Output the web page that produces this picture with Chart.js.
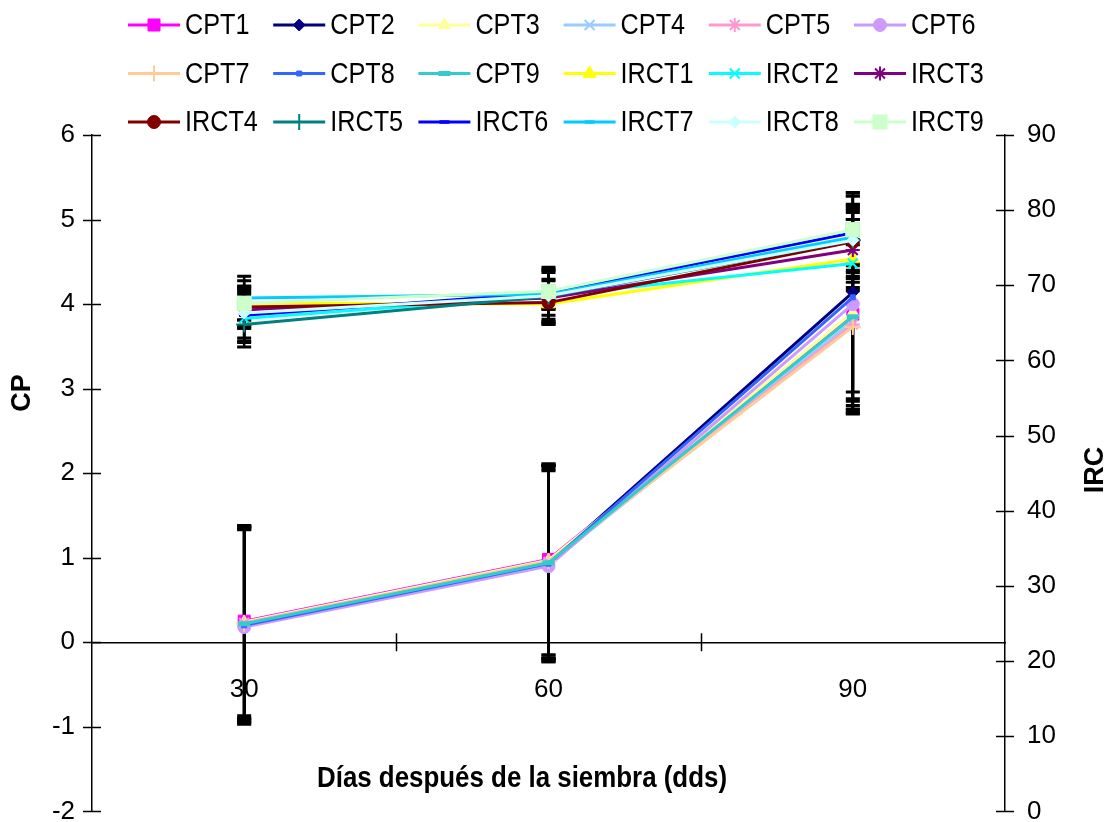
<!DOCTYPE html>
<html>
<head>
<meta charset="utf-8">
<script src="https://cdn.jsdelivr.net/npm/chart.js"></script>
<style>
  html, body { margin: 0; padding: 0; background: #fff; }
  #wrap { width: 1109px; height: 822px; overflow: hidden; position: relative; }
</style>
</head>
<body>
<div id="wrap"><canvas id="chart" width="1109" height="849"></canvas></div>
<script>
// dias despues de la siembra
const days = ['30', '60', '90'];

const cpNames = ['CPT1', 'CPT2', 'CPT3', 'CPT4', 'CPT5', 'CPT6', 'CPT7', 'CPT8', 'CPT9'];
const ircNames = ['IRCT1', 'IRCT2', 'IRCT3', 'IRCT4', 'IRCT5', 'IRCT6', 'IRCT7', 'IRCT8', 'IRCT9'];

// CP values (left axis), one array per day, T1..T9
const cp30 = [0.25, 0.22, 0.24, 0.20, 0.23, 0.18, 0.22, 0.20, 0.22];
const cp60 = [0.98, 0.94, 0.97, 0.93, 0.95, 0.90, 0.96, 0.93, 0.94];
const cp90 = [3.88, 4.14, 3.90, 3.80, 3.76, 4.00, 3.73, 4.08, 3.85];
const cpErr30 = [1.12, 1.15, 1.14, 1.16, 1.13, 1.15, 1.12, 1.14, 1.16];
const cpErr60 = [1.13, 1.15, 1.12, 1.16, 1.14, 1.13, 1.15, 1.12, 1.14];
const cpErr90 = [1.12, 1.18, 1.10, 1.08, 1.05, 1.15, 1.03, 1.20, 1.10];

// IRC values (right axis)
const irc30 = [67.6, 65.6, 66.7, 67.1, 64.8, 66.0, 68.3, 66.3, 67.6];
const irc60 = [67.5, 68.6, 68.3, 67.7, 68.5, 69.0, 68.8, 68.6, 69.2];
const irc90 = [73.5, 72.9, 74.7, 75.8, 76.0, 77.0, 76.4, 76.0, 77.4];
const ircErr30 = [3.0, 3.2, 2.4, 2.8, 3.0, 3.4, 2.9, 3.3, 2.2];
const ircErr60 = [2.4, 3.4, 1.5, 2.9, 3.6, 0.8, 2.0, 3.1, 3.2];
const ircErr90 = [4.2, 2.5, 5.0, 4.9, 4.0, 5.3, 3.8, 4.8, 4.5];

const cpTicks = [-2, -1, 0, 1, 2, 3, 4, 5, 6];
const ircTicks = [0, 10, 20, 30, 40, 50, 60, 70, 80, 90];

// styles
const cpColors = ['#FF00FF', '#000080', '#FFFF99', '#99CCFF', '#FF99CC', '#CC99FF', '#FFCC99', '#3366FF', '#33CCCC'];
const cpMarkers = ['rect', 'rectRot', 'triangle', 'crossRot', 'star', 'circle', 'cross', 'rect', 'line'];
const cpRadius = [8.5, 6, 7, 7, 7, 6.5, 8, 3.5, 6];
const ircColors = ['#FFFF00', '#00FFFF', '#800080', '#800000', '#008080', '#0000FF', '#00CCFF', '#CCFFFF', '#CCFFCC'];
const ircMarkers = ['triangle', 'crossRot', 'star', 'circle', 'cross', 'line', 'line', 'rectRot', 'rect'];
const ircRadius = [7.5, 7, 7, 6.5, 8, 5, 5, 6, 10];

const FONT = "'Liberation Sans', Arial, sans-serif";
Chart.defaults.font.family = FONT;
Chart.defaults.color = '#000';

function isOpen(style) {
    return style === 'cross' || style === 'crossRot' || style === 'star' || style === 'line';
}

function makeSet(name, values, errs, color, marker, radius, axis) {
    let bw = 1;
    if (isOpen(marker)) bw = marker === 'line' ? (radius > 5.5 ? 5 : 3.5) : 2;
    return {
        label: name,
        data: values,
        errors: errs,
        yAxisID: axis,
        borderColor: color,
        backgroundColor: color,
        borderWidth: 3,
        pointStyle: marker,
        pointRadius: radius,
        pointBorderColor: color,
        pointBackgroundColor: color,
        pointBorderWidth: bw,
        tension: 0
    };
}

let datasets = [];
cpNames.forEach(function (name, i) {
    datasets.push(makeSet(name, [cp30[i], cp60[i], cp90[i]], [cpErr30[i], cpErr60[i], cpErr90[i]],
        cpColors[i], cpMarkers[i], cpRadius[i], 'y'));
});
ircNames.forEach(function (name, i) {
    datasets.push(makeSet(name, [irc30[i], irc60[i], irc90[i]], [ircErr30[i], ircErr60[i], ircErr90[i]],
        ircColors[i], ircMarkers[i], ircRadius[i], 'y1'));
});
// later series on top, like the original spreadsheet
datasets.forEach(function (ds, i) { ds.order = datasets.length - i; });

function marker(ctx, ds, x, y) {
    ctx.save();
    ctx.fillStyle = ds.pointBackgroundColor;
    ctx.strokeStyle = ds.pointBorderColor;
    ctx.lineWidth = ds.pointBorderWidth;
    Chart.helpers.drawPoint(ctx, {
        pointStyle: ds.pointStyle, radius: ds.pointRadius, rotation: 0, borderWidth: ds.pointBorderWidth
    }, x, y);
    ctx.restore();
}

// squeeze text to a given width (the original uses a narrow font)
function narrowText(ctx, text, x, y, sx) {
    ctx.save();
    ctx.translate(x, y);
    ctx.scale(sx, 1);
    ctx.fillText(text, 0, 0);
    ctx.restore();
}

// black error bars under the markers
const errorBars = {
    id: 'errorBars',
    beforeDatasetsDraw(chart) {
        const ctx = chart.ctx;
        ctx.save();
        ctx.strokeStyle = '#000';
        chart.data.datasets.forEach(function (ds, i) {
            const meta = chart.getDatasetMeta(i);
            const scale = chart.scales[ds.yAxisID];
            meta.data.forEach(function (pt, j) {
                const v = ds.data[j], e = ds.errors[j];
                const top = scale.getPixelForValue(v + e);
                const bot = scale.getPixelForValue(v - e);
                ctx.lineWidth = 2.5;
                ctx.beginPath();
                ctx.moveTo(pt.x, top);
                ctx.lineTo(pt.x, bot);
                ctx.stroke();
                ctx.lineWidth = 3;
                ctx.beginPath();
                ctx.moveTo(pt.x - 7, top);
                ctx.lineTo(pt.x + 7, top);
                ctx.moveTo(pt.x - 7, bot);
                ctx.lineTo(pt.x + 7, bot);
                ctx.stroke();
            });
        });
        ctx.restore();
    }
};

// excel style tick marks crossing the axes, titles and legend
const decorations = {
    id: 'decorations',
    afterDraw(chart) {
        const ctx = chart.ctx;
        const sx = chart.scales.x, sy = chart.scales.y, sy1 = chart.scales.y1;
        ctx.save();
        ctx.strokeStyle = '#000';
        ctx.lineWidth = 1.5;
        ctx.beginPath();
        cpTicks.forEach(function (t) {
            const p = Math.round(sy.getPixelForValue(t)) + 0.5;
            ctx.moveTo(sy.right - 9, p);
            ctx.lineTo(sy.right + 9, p);
        });
        ircTicks.forEach(function (t) {
            const p = Math.round(sy1.getPixelForValue(t)) + 0.5;
            ctx.moveTo(sy1.left - 9, p);
            ctx.lineTo(sy1.left + 9, p);
        });
        const y0 = sy.getPixelForValue(0);
        const half = (sx.getPixelForValue(1) - sx.getPixelForValue(0)) / 2;
        for (let i = 1; i < days.length; i++) {
            const p = Math.round(sx.getPixelForValue(i) - half) + 0.5;
            ctx.moveTo(p, y0 - 9);
            ctx.lineTo(p, y0 + 9);
        }
        ctx.stroke();

        // axis titles
        ctx.fillStyle = '#000';
        ctx.textAlign = 'center';
        ctx.textBaseline = 'middle';
        ctx.font = 'bold 29px ' + FONT;
        const xt = 'Días después de la siembra (dds)';
        narrowText(ctx, xt, 522, 779, 410 / ctx.measureText(xt).width);
        ctx.font = 'bold 27px ' + FONT;
        ctx.save();
        ctx.translate(23, 393);
        ctx.rotate(-Math.PI / 2);
        ctx.fillText('CP', 0, 0);
        ctx.restore();
        ctx.save();
        ctx.translate(1096, 470);
        ctx.rotate(-Math.PI / 2);
        ctx.fillText('IRC', 0, 0);
        ctx.restore();

        // legend, 6 columns x 3 rows
        ctx.font = '29px ' + FONT;
        ctx.textAlign = 'left';
        chart.data.datasets.forEach(function (ds, i) {
            const x0 = 128 + (i % 6) * 145.2;
            const y = 25 + Math.floor(i / 6) * 48.5;
            ctx.strokeStyle = ds.borderColor;
            ctx.lineWidth = 3;
            ctx.beginPath();
            ctx.moveTo(x0, y);
            ctx.lineTo(x0 + 52, y);
            ctx.stroke();
            marker(ctx, ds, x0 + 26, y);
            ctx.fillStyle = '#000';
            narrowText(ctx, ds.label, x0 + 57, y + 1, 0.87);
        });
        ctx.restore();
    }
};

let ctx = document.getElementById('chart').getContext('2d');
window.chart = new Chart(ctx, {
    type: 'line',
    data: { labels: days, datasets: datasets },
    plugins: [errorBars, decorations],
    options: {
        responsive: false,
        animation: false,
        devicePixelRatio: 1,
        layout: { padding: { top: 135, bottom: 29.4, left: 0, right: 0 } },
        plugins: { legend: { display: false }, tooltip: { enabled: false } },
        scales: {
            x: {
                type: 'category',
                position: { y: 0 },
                offset: true,
                grid: { offset: true, drawOnChartArea: false, drawTicks: false },
                border: { color: '#000', width: 1.5 },
                ticks: { font: { size: 26 }, padding: 32, maxRotation: 0 }
            },
            y: {
                position: 'left',
                min: -2,
                max: 6,
                ticks: { stepSize: 1, font: { size: 26 }, padding: 17 },
                grid: { drawOnChartArea: false, drawTicks: false },
                border: { color: '#000', width: 1.5 },
                afterFit: function (scale) { scale.width = 92; }
            },
            y1: {
                position: 'right',
                min: 0,
                max: 90,
                ticks: { stepSize: 10, font: { size: 26 }, padding: 22 },
                grid: { drawOnChartArea: false, drawTicks: false },
                border: { color: '#000', width: 1.5 },
                afterFit: function (scale) { scale.width = 104; }
            }
        }
    }
});
</script>
</body>
</html>
